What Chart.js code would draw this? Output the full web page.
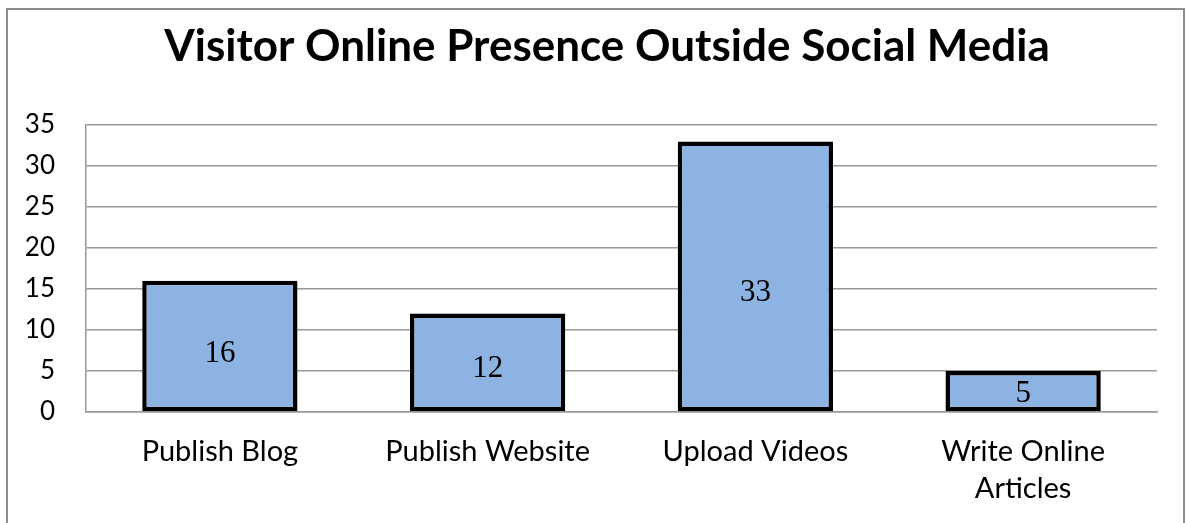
<!DOCTYPE html>
<html>
<head>
<meta charset="utf-8">
<script src="https://cdn.jsdelivr.net/npm/chart.js@4/dist/chart.umd.min.js"></script>
<style>
  html, body { margin: 0; padding: 0; background: #fff; }
  #wrap { width: 1186px; height: 523px; }
</style>
</head>
<body>
<div id="wrap"><canvas id="chart" width="1186" height="523"></canvas></div>
<script>
const categories = ['Publish Blog', 'Publish Website', 'Upload Videos', ['Write Online', 'Articles']];
const visitors = [16, 12, 33, 5];
const yTicks = [0, 5, 10, 15, 20, 25, 30, 35];

const titleText = 'Visitor Online Presence Outside Social Media';

// frame, title and in-bar value labels
const decorations = {
  id: 'decorations',
  beforeDraw(chart) {
    const ctx = chart.ctx;
    ctx.save();
    ctx.fillStyle = '#fff';
    ctx.fillRect(0, 0, chart.width, chart.height);
    ctx.strokeStyle = '#8c8c8c';
    ctx.lineWidth = 2;
    ctx.strokeRect(7, 9, 1177, 540);
    ctx.restore();
  },
  afterDraw(chart) {
    const ctx = chart.ctx;
    ctx.save();
    ctx.fillStyle = '#000';
    ctx.font = 'bold 44px Lato';
    ctx.textAlign = 'center';
    ctx.textBaseline = 'alphabetic';
    ctx.fillText(titleText, 607, 61);

    const meta = chart.getDatasetMeta(0);
    const base = chart.scales.y.getPixelForValue(0);
    ctx.font = '31px "Liberation Serif"';
    ctx.textBaseline = 'middle';
    meta.data.forEach((bar, i) => {
      const h = base - bar.y;
      ctx.fillText(String(visitors[i]), bar.x, base - 0.44 * h);
    });
    ctx.restore();
  }
};

new Chart(document.getElementById('chart'), {
  type: 'bar',
  data: {
    labels: categories,
    datasets: [{
      data: visitors,
      backgroundColor: '#8db3e2',
      borderColor: '#000',
      borderWidth: 4.5,
      borderSkipped: false,
      barPercentage: 0.58,
      categoryPercentage: 1
    }]
  },
  options: {
    responsive: false,
    animation: false,
    layout: { padding: { top: 125, right: 29, left: 0, bottom: 0 } },
    plugins: {
      legend: { display: false },
      title: { display: false },
      tooltip: { enabled: false }
    },
    scales: {
      x: {
        grid: { display: false, drawTicks: false },
        border: { display: true, color: '#999', width: 1.5 },
        ticks: {
          color: '#000',
          font: { family: 'Lato', size: 29, lineHeight: 1.28 },
          padding: 21,
          maxRotation: 0,
          autoSkip: false
        },
        afterFit(scale) { scale.height = 111; }
      },
      y: {
        min: 0,
        max: 35,
        afterBuildTicks(scale) { scale.ticks = yTicks.map(v => ({ value: v })); },
        grid: { color: '#999', lineWidth: 1.5, drawTicks: false },
        border: { display: true, color: '#999', width: 1.5 },
        ticks: {
          color: '#000',
          font: { family: 'Lato', size: 26 },
          padding: 31
        },
        afterFit(scale) { scale.width = 86; }
      }
    }
  },
  plugins: [decorations]
});
</script>
</body>
</html>
